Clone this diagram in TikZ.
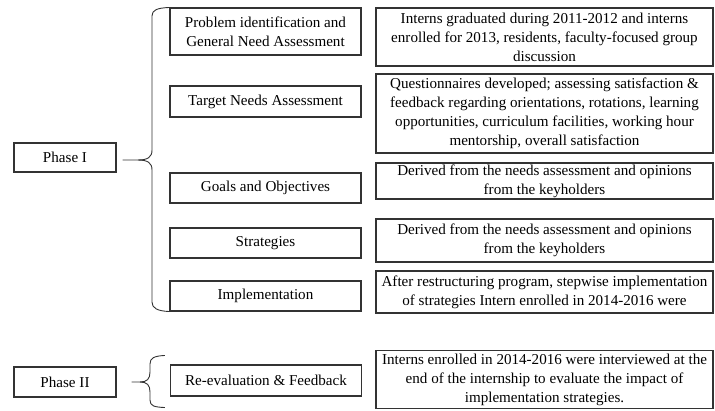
\documentclass[tikz,border=0pt]{standalone}
\usepackage{fontspec}
\setmainfont{Liberation Serif}
\usetikzlibrary{positioning,calc}

\begin{document}
\begin{tikzpicture}[
    x=1pt, y=-1pt,
    step box/.style={rectangle, draw=black!80, line width=1.1pt, minimum width=191pt, align=center, inner sep=0pt, font=\fontsize{15.1}{19}\selectfont},
    phase box/.style={step box, minimum width=102pt},
    info box/.style={step box, minimum width=337pt},
    brace/.style={draw=black!80, line width=0.9pt}
]
\useasboundingbox (0,0) rectangle (715,410);

% Phases
\node[phase box, minimum height=29pt] (phase1) at (65,157.5) {Phase I};
\node[phase box, minimum height=30pt] (phase2) at (65,382) {Phase II};

% Steps of phase I
\node[step box, minimum height=47pt] (general) at (265.5,31.5) {Problem identification and\\General Need Assessment};
\node[step box, minimum height=31pt] (target) at (265.5,101.5) {Target Needs Assessment};
\node[step box, minimum height=30pt] (goals) at (265.5,188) {Goals and Objectives};
\node[step box, minimum height=30pt] (strategies) at (265.5,243) {Strategies};
\node[step box, minimum height=30pt] (implement) at (265.5,296) {Implementation};

% Step of phase II
\node[step box, minimum height=31pt] (feedback) at (266,380.5) {Re-evaluation \& Feedback};

% Details
\node[info box, minimum height=58pt] (generalinfo) at (544.5,37) {Interns graduated during 2011-2012 and interns\\enrolled for 2013, residents, faculty-focused group\\discussion};
\node[info box, minimum height=79pt] (targetinfo) at (544.5,113.5) {Questionnaires developed; assessing satisfaction \&\\feedback regarding orientations, rotations, learning\\opportunities, curriculum facilities, working hour\\mentorship, overall satisfaction};
\node[info box, minimum height=36pt] (goalsinfo) at (544.5,181) {Derived from the needs assessment and opinions\\from the keyholders};
\node[info box, minimum height=43pt] (strategiesinfo) at (544.5,240.5) {Derived from the needs assessment and opinions\\from the keyholders};
\node[info box, minimum height=42pt] (implementinfo) at (544.5,292) {After restructuring program, stepwise implementation\\of strategies Intern enrolled in 2014-2016 were};
\node[info box, minimum height=58pt] (feedbackinfo) at (544.5,379.5) {Interns enrolled in 2014-2016 were interviewed at the\\end of the internship to evaluate the impact of\\implementation strategies.};

% Braces
\coordinate (tip1) at ($(phase1.east)+(6,2.5)$);
\coordinate (tip2) at ($(phase2.east)+(15,0)$);
\coordinate (top2) at ($(feedback.north west)+(-5,-9)$);
\coordinate (bot2) at ($(feedback.south west)+(-5,11)$);

\draw[brace] (tip1) -- (138,160) .. controls (148,160) and (152,157) .. (152,150) -- (152,16) .. controls (152,10) and (157,8) .. (general.north west);
\draw[brace] (138,160) .. controls (148,160) and (152,163) .. (152,170) -- (152,302) .. controls (152,308) and (157,311) .. (implement.south west);

\draw[brace] (tip2) -- (140,382) .. controls (147,382) and (150,379) .. (150,372) -- (150,364) .. controls (150,358) and (154,356) .. (top2);
\draw[brace] (140,382) .. controls (147,382) and (150,385) .. (150,392) -- (150,400) .. controls (150,406) and (154,407) .. (bot2);

\end{tikzpicture}
\end{document}
